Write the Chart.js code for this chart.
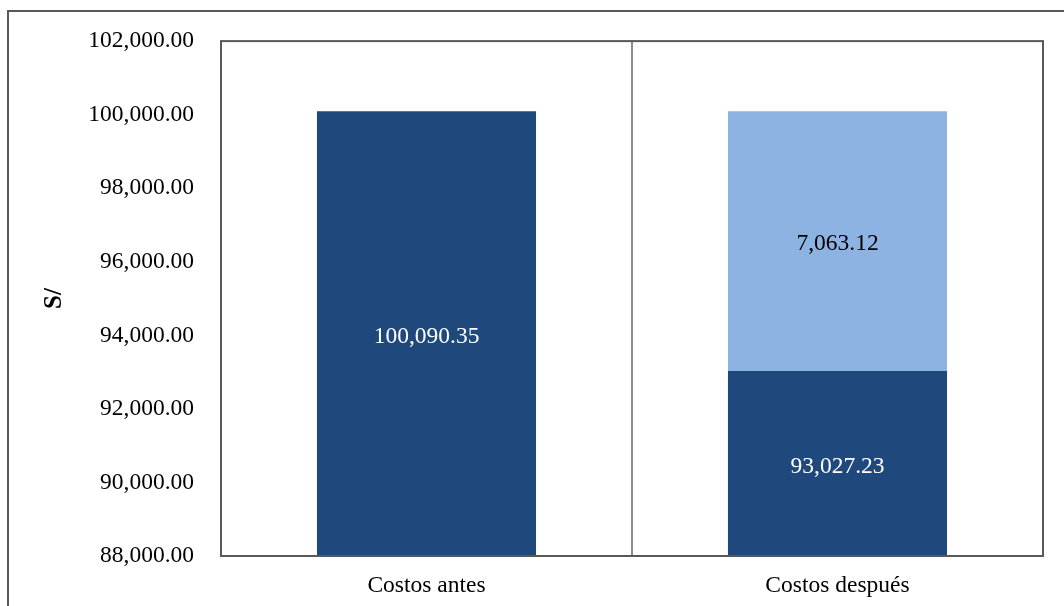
<!DOCTYPE html>
<html>
<head>
<meta charset="utf-8">
<script src="https://cdn.jsdelivr.net/npm/chart.js@4/dist/chart.umd.min.js"></script>
<style>
  html, body { margin: 0; padding: 0; background: #fff; }
  #wrap { position: relative; width: 1064px; height: 606px; overflow: hidden; }
  #frame { position: absolute; left: 7px; top: 10px; width: 1100px; height: 700px; border: 2px solid #595959; box-sizing: border-box; }
  canvas { position: absolute; left: 0; top: 0; }
</style>
</head>
<body>
<div id="wrap">
  <div id="frame"></div>
  <canvas id="chart" width="1064" height="606"></canvas>
</div>
<script>
const categories = ['Costos antes', 'Costos después'];
const costosBase = [100090.35, 93027.23];
const costosAhorro = [null, 7063.12];
const yMin = 88000;
const yMax = 102000;
const yStep = 2000;

const fmt = v => v.toLocaleString('en-US', { minimumFractionDigits: 2, maximumFractionDigits: 2 });
const serif = "'Liberation Serif', 'Times New Roman', serif";
const fontSize = 23.5;

// marco del área de trazado + etiquetas dentro de las barras
const plotFrame = {
    id: 'plotFrame',
    afterDatasetsDraw(chart) {
        const ctx = chart.ctx;
        const a = chart.chartArea;
        ctx.save();
        ctx.strokeStyle = '#595959';
        ctx.lineWidth = 2;
        ctx.strokeRect(a.left, a.top, a.right - a.left, a.bottom - a.top);

        ctx.font = fontSize + 'px ' + serif;
        ctx.textAlign = 'center';
        ctx.textBaseline = 'middle';
        chart.data.datasets.forEach((ds, i) => {
            const meta = chart.getDatasetMeta(i);
            meta.data.forEach((bar, j) => {
                const v = ds.data[j];
                if (v == null) return;
                const p = bar.getProps(['x', 'y', 'base'], true);
                const top = Math.max(Math.min(p.y, p.base), a.top);
                const bottom = Math.min(Math.max(p.y, p.base), a.bottom);
                ctx.fillStyle = i === 0 ? '#ffffff' : '#000000';
                ctx.fillText(fmt(v), p.x, (top + bottom) / 2 + 3);
            });
        });
        ctx.restore();
    }
};

new Chart(document.getElementById('chart').getContext('2d'), {
    type: 'bar',
    data: {
        labels: categories,
        datasets: [
            { data: costosBase, backgroundColor: '#1F497D', borderWidth: 0 },
            { data: costosAhorro, backgroundColor: '#8DB3E2', borderWidth: 0 }
        ]
    },
    options: {
        responsive: false,
        animation: false,
        events: [],
        layout: { padding: { left: 0, top: 40, right: 21, bottom: 0 } },
        plugins: {
            legend: { display: false },
            tooltip: { enabled: false }
        },
        datasets: {
            bar: { categoryPercentage: 1, barPercentage: 0.533 }
        },
        scales: {
            x: {
                stacked: true,
                grid: { display: true, offset: true, color: '#8c8c8c', lineWidth: 2, drawTicks: false },
                border: { display: false },
                ticks: { color: '#000', font: { family: serif, size: fontSize }, padding: 16 },
                afterFit(scale) { scale.height = 50; }
            },
            y: {
                stacked: true,
                min: yMin,
                max: yMax,
                grid: { display: false, drawTicks: false },
                border: { display: false },
                ticks: {
                    stepSize: yStep,
                    color: '#000',
                    font: { family: serif, size: fontSize },
                    padding: 27,
                    callback: v => fmt(v)
                },
                title: {
                    display: true,
                    text: 'S/',
                    color: '#000',
                    font: { family: serif, size: 25, weight: 'bold' },
                    padding: { top: 40, bottom: 0 }
                },
                afterFit(scale) { scale.width = 221; }
            }
        }
    },
    plugins: [plotFrame]
});
</script>
</body>
</html>
